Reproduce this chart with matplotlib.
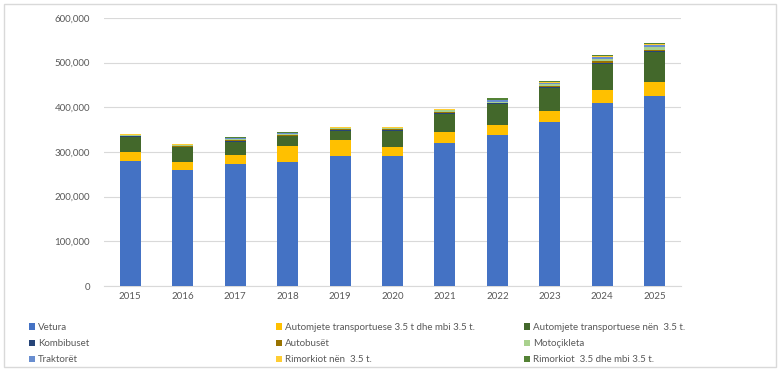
import numpy as np
import matplotlib
matplotlib.use('Agg')
import matplotlib.pyplot as plt
from matplotlib.patches import Rectangle

plt.rcParams['font.family'] = ['Lato', 'DejaVu Sans']

vitet = ['2015', '2016', '2017', '2018', '2019', '2020', '2021', '2022', '2023', '2024', '2025']

# vlerat ne mijera, lexuar nga grafiku
vetura = [280, 260, 273, 278, 292, 292, 321, 338, 367, 409, 425]
automjete_mbi = [20, 17, 20, 35, 35, 20, 23, 22, 25, 29, 31]
automjete_nen = [34, 34, 30, 22, 21, 35, 42, 48, 51, 60, 69]
kombibuset = [1.0, 1.0, 1.0, 1.5, 1.5, 1.5, 1.5, 1.5, 1.5, 1.5, 1.5]
autobuset = [0.5, 0.5, 2.0, 1.0, 1.0, 3.0, 2.0, 1.0, 3.0, 3.5, 2.0]
motocikleta = [2.5, 3.0, 2.0, 3.0, 2.5, 1.5, 3.5, 2.5, 5.0, 6.0, 7.0]
traktoret = [1.0, 1.0, 2.5, 1.5, 1.0, 1.0, 1.5, 3.5, 2.5, 3.0, 4.0]
rimorkiot_nen = [1.0, 1.0, 1.5, 1.0, 1.0, 1.5, 1.5, 1.0, 1.5, 2.0, 2.0]
rimorkiot_mbi = [1.0, 1.5, 1.0, 1.0, 1.0, 0.5, 1.0, 2.5, 3.5, 4.0, 3.5]

seri = [
    ('Vetura', vetura, '#4472C4'),
    ('Automjete transportuese 3.5 t dhe mbi 3.5 t.', automjete_mbi, '#FFC000'),
    ('Automjete transportuese nën  3.5 t.', automjete_nen, '#43682B'),
    ('Kombibuset', kombibuset, '#264478'),
    ('Autobusët', autobuset, '#997300'),
    ('Motoçikleta', motocikleta, '#A9D18E'),
    ('Traktorët', traktoret, '#698ED0'),
    ('Rimorkiot nën  3.5 t.', rimorkiot_nen, '#FFCD33'),
    ('Rimorkiot  3.5 dhe mbi 3.5 t.', rimorkiot_mbi, '#548235'),
]

fig = plt.figure(figsize=(7.8, 3.7), dpi=100)
ax = fig.add_axes([104 / 780, 1 - 286 / 370, (681 - 104) / 780, (286 - 18) / 370])

x = np.arange(len(vitet))
bottom = np.zeros(len(vitet))
for emri, vlerat, ngjyra in seri:
    v = np.array(vlerat) * 1000
    ax.bar(x, v, 0.4, bottom=bottom, color=ngjyra, label=emri, zorder=3)
    bottom += v

ax.set_xlim(-0.5, len(vitet) - 0.5)
ax.set_ylim(0, 600000)
ax.set_yticks(np.arange(0, 600001, 100000))
ax.yaxis.set_major_formatter(matplotlib.ticker.FuncFormatter(lambda v, p: f'{int(v):,}'))
ax.set_xticks(x)
ax.set_xticklabels(vitet)
ax.grid(axis='y', color='#D9D9D9', linewidth=0.8, zorder=0)
for s in ['top', 'right', 'left']:
    ax.spines[s].set_visible(False)
ax.spines['bottom'].set_color('#D9D9D9')
ax.tick_params(axis='both', length=0, labelsize=7, colors='#595959')
ax.tick_params(axis='y', pad=10)
ax.tick_params(axis='x', pad=4)

# legjenda: tre kolona, secila me legjenden e vet
handles, labels = ax.get_legend_handles_labels()
kolonat_x = [25, 272, 520]
for k, xk in enumerate(kolonat_x):
    idx = [k, k + 3, k + 6]
    fig.legend([handles[i] for i in idx], [labels[i] for i in idx], loc='upper left',
               bbox_to_anchor=(xk / 780, 1 - 319 / 370), frameon=False, fontsize=7,
               handlelength=0.6, handleheight=0.6, handletextpad=0.3,
               labelspacing=0.75, labelcolor='#595959', borderaxespad=0)

fig.patches.append(Rectangle((4 / 780, 3 / 370), 1 - 8 / 780, 1 - 7 / 370, transform=fig.transFigure,
                             fill=False, edgecolor='#D9D9D9', linewidth=1))

fig.savefig('out.png', dpi=100)
